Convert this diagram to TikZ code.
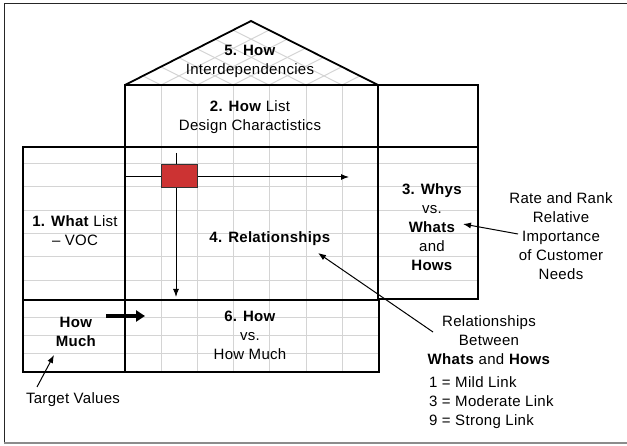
\documentclass[tikz,border=0pt]{standalone}
\usepackage{fontspec}
\setmainfont[LetterSpace=2]{Liberation Sans}
\usetikzlibrary{arrows.meta}
\definecolor{qred}{RGB}{204,51,51}
\definecolor{gridgrey}{RGB}{212,212,212}
\begin{document}
\begin{tikzpicture}[x=1pt,y=-1pt,
  txt/.style={font=\fontsize{15}{19}\selectfont, align=center, inner sep=0pt},
  frame/.style={line width=1.8pt, line join=miter},
  gridln/.style={gridgrey, line width=1pt},
  arr/.style={line width=1pt, -{Latex[length=8pt,width=6pt]}}]
\useasboundingbox (0,0) rectangle (627,446);
% outer border
\draw[line width=1pt, black!85] (4,443) -- (4,4) -- (627,4);
\draw[line width=1.3pt, black!45] (4,443) -- (627,443);
% roof lattice
\begin{scope}
  \clip (125,85) -- (251,21) -- (378,85) -- cycle;
  \foreach \bx in {125,161,197,233,269,306,342,378}{
    \draw[gridln] (\bx,85) -- ++(252,-128);
    \draw[gridln] (\bx,85) -- ++(-254,-128);
  }
\end{scope}
% vertical grid lines
\foreach \gx in {161,197,233,269,306,342}{
  \draw[gridln] (\gx,85) -- (\gx,372);
}
% horizontal grid lines
\foreach \gy in {164,187,211,234,257,281}{
  \draw[gridln] (23,\gy) -- (478,\gy);
}
\foreach \gy in {318,336,354}{
  \draw[gridln] (23,\gy) -- (379,\gy);
}
% frames
\draw[frame] (125,85) -- (251,21) -- (378,85);
\draw[frame] (125,85) rectangle (378,147);
\draw[frame] (378,85) rectangle (478,147);
\draw[frame] (23,147) rectangle (125,300);
\draw[frame] (125,147) rectangle (378,300);
\draw[frame] (378,147) rectangle (478,299);
\draw[frame] (23,300) rectangle (379,372);
\draw[frame] (125,300) -- (125,372);
% flow arrows through red cell
\coordinate (vtop) at (176,153);
\coordinate (vend) at (176,297);
\coordinate (hstart) at (125,177);
\coordinate (hend) at (349,177);
\draw[arr] (vtop) -- (vend);
\draw[arr] (hstart) -- (hend);
\node[draw=black!80, line width=0.7pt, fill=qred, minimum width=36pt, minimum height=23pt, inner sep=0pt] (redcell) at (179,175.5) {};
% texts
\node[txt] (roof) at (250,61) {\textbf{5. How}\\Interdependencies};
\node[txt] (howlist) at (250,117) {\textbf{2. How} List\\Design Charactistics};
\node[txt] (what) at (75,231) {\textbf{1. What} List\\– VOC};
\node[txt] (rel) at (270,239) {\textbf{4. Relationships}};
\node[txt] (whys) at (432,227) {\textbf{3. Whys}\\vs.\\\textbf{Whats}\\and\\\textbf{Hows}};
\node[txt] (rate) at (561,236) {Rate and Rank\\Relative\\Importance\\of Customer\\Needs};
\node[txt] (howvs) at (250,335) {\textbf{6. How}\\vs.\\How Much};
\node[txt] (howmuch) at (76,332) {\textbf{How}\\\textbf{Much}};
\node[txt] (target) at (73,400) {Target Values};
\node[txt] (relbetween) at (489,340) {Relationships\\Between\\\textbf{Whats} and \textbf{Hows}};
\node[txt, align=left, anchor=west] (legend) at (429,403) {1 = Mild Link\\3 = Moderate Link\\9 = Strong Link};
% annotation arrows
\coordinate (rateA) at (518,234);
\coordinate (rateB) at (463,224);
\draw[arr] (rateA) -- (rateB);
\coordinate (relA) at (433,332);
\coordinate (relB) at (318,253);
\draw[arr] (relA) -- (relB);
\coordinate (tgA) at (37,387);
\coordinate (tgB) at (54,355);
\draw[arr] (tgA) -- (tgB);
\coordinate (thA) at (106,316);
\coordinate (thB) at (145,316);
\draw[line width=3.5pt, -{Triangle[length=9pt,width=11pt]}] (thA) -- (thB);
\end{tikzpicture}
\end{document}
